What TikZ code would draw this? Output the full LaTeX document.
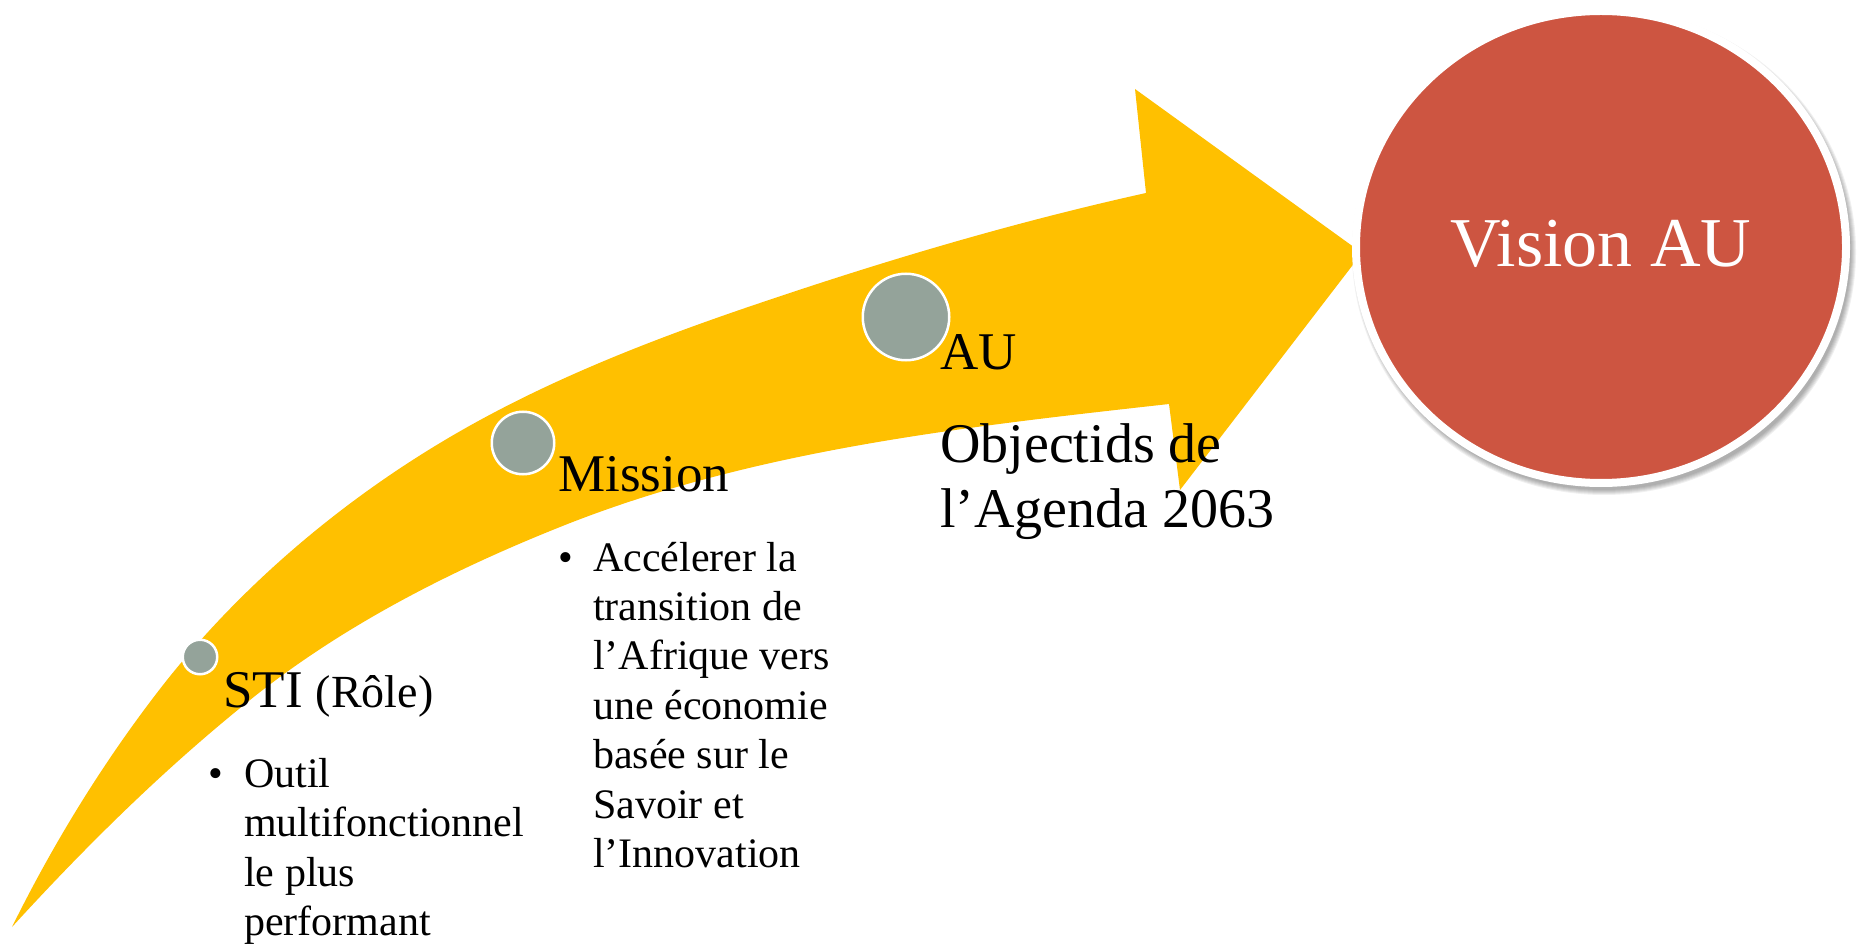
\documentclass[tikz,border=0pt]{standalone}
\usepackage{fontspec}
\setmainfont{Liberation Serif}
\usetikzlibrary{shapes.geometric}
\definecolor{arrowyellow}{HTML}{FFC000}
\definecolor{dotgray}{HTML}{94A39A}
\definecolor{visred}{HTML}{CD5541}
\tikzset{
  dotnode/.style={circle, fill=dotgray, draw=white, line width=2.5pt, inner sep=0pt},
  headtxt/.style={anchor=base west, inner sep=0pt, font=\fontsize{53}{64}\selectfont},
  bodytxt/.style={anchor=base west, inner sep=0pt, font=\fontsize{42}{49}\selectfont},
  bulletmark/.style={anchor=base west, inner sep=0pt, font=\fontsize{42}{49}\selectfont},
}
\begin{document}
\begin{tikzpicture}[x=1pt,y=-1pt]
\useasboundingbox (0,0) rectangle (1858,949);
\fill[white] (0,0) rectangle (1858,949);

% curved arrow
\fill[arrowyellow] (12,927)
  .. controls (55,840) and (107,756) .. (167,680)
  .. controls (242,586) and (337,505) .. (440,443)
  .. controls (539.5,383) and (650,340) .. (760,303)
  .. controls (887,260) and (1015,222) .. (1146,193)
  -- (1135,89) -- (1362,253) -- (1180,490) -- (1169,404)
  .. controls (963,427) and (752,450) .. (560,527)
  .. controls (450,571) and (342,626) .. (250,700)
  .. controls (164,769) and (86,846) .. (12,927)
  -- cycle;

% shadow of the vision circle
\foreach \k in {0,...,5}
  \fill[black, opacity=0.06] (1604,252) ellipse [x radius=247+\k, y radius=238+\k];

% vision circle
\node[ellipse, minimum width=490pt, minimum height=472pt, inner sep=0pt,
      fill=visred, draw=white, line width=8pt] (vision) at (1601,247) {};
\node[anchor=base, inner sep=0pt, text=white, font=\fontsize{70}{80}\selectfont]
  (visiontxt) at (1601,267) {Vision AU};

% small circles
\node[dotnode, minimum size=34.5pt] (dsti) at (200,657) {};
\node[dotnode, minimum size=62.5pt] (dmission) at (523,443) {};
\node[dotnode, minimum size=86.5pt] (dau) at (906,317) {};

% STI
\node[headtxt] (sti) at (223,707) {STI {\fontsize{46}{52}\selectfont(Rôle)}};
\node[bulletmark] (stib) at (208,787) {•};
\foreach \t [count=\i from 0] in {Outil, multifonctionnel, le plus, performant}
  \node[bodytxt] (stil\i) at (244,787+49.5*\i) {\t};

% Mission
\node[headtxt] (mission) at (558,491) {Mission};
\node[bulletmark] (missionb) at (558,571) {•};
\foreach \t [count=\i from 0] in {Accélerer la, transition de, l’Afrique vers, une économie, basée sur le, Savoir et, l’Innovation}
  \node[bodytxt] (missionl\i) at (593,571+49.4*\i) {\t};

% AU
\node[headtxt] (au) at (940,370) {AU};
\node[headtxt, font=\fontsize{56}{64}\selectfont] (obj1) at (940,462) {Objectids de};
\node[headtxt, font=\fontsize{56}{64}\selectfont] (obj2) at (940,527) {l’Agenda 2063};
\end{tikzpicture}
\end{document}
